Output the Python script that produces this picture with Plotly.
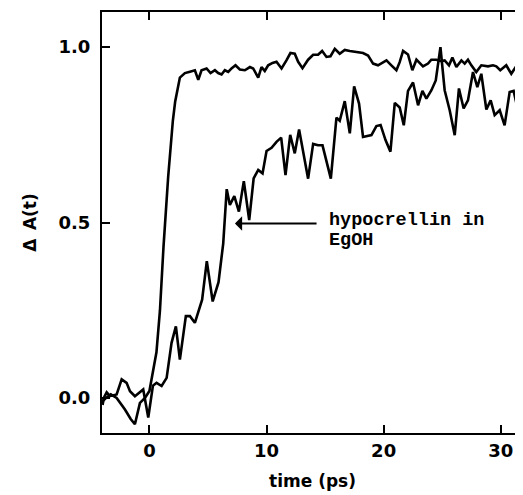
import plotly.graph_objects as go

# Fast-rising trace (time in ps, normalized absorbance change)
time_fast = [-4.0, -3.7, -3.3, -2.8, -2.09, -1.6, -1.24, -0.81, -0.38, 0.0,
             0.6, 0.9, 1.2, 1.6, 2.0, 2.2, 2.6, 3.03, 3.46, 3.88, 4.17, 4.45,
             4.88, 5.22, 5.59, 5.87, 6.16, 6.44, 6.73, 7.01, 7.35, 7.72, 8.15,
             8.58, 8.86, 9.29, 9.57, 9.85, 10.14, 10.51, 10.85, 11.28, 11.70,
             12.04, 12.41, 12.70, 13.07, 13.55, 13.98, 14.40, 14.75, 15.12,
             15.46, 15.83, 16.25, 16.68, 17.11, 17.68, 18.24, 18.67, 19.10,
             19.52, 19.95, 20.24, 20.66, 21.09, 21.37, 21.66, 22.08, 22.45,
             22.80, 23.36, 23.79, 24.07, 24.50, 24.93, 25.21, 25.58, 25.87,
             26.21, 26.64, 26.92, 27.20, 27.49, 27.91, 28.34, 28.91, 29.34,
             29.62, 29.96, 30.47, 30.90, 31.32, 31.89]
signal_fast = [-0.01, 0.0, 0.01, 0.0, -0.033, -0.06, -0.075, -0.014, 0.0, 0.02,
               0.13, 0.25, 0.43, 0.63, 0.79, 0.845, 0.913, 0.926, 0.930, 0.934,
               0.907, 0.934, 0.939, 0.926, 0.934, 0.926, 0.922, 0.934, 0.929,
               0.939, 0.948, 0.936, 0.934, 0.943, 0.939, 0.913, 0.943, 0.932,
               0.948, 0.955, 0.958, 0.939, 0.962, 0.983, 0.981, 0.958, 0.940,
               0.964, 0.978, 0.978, 0.989, 0.972, 0.974, 0.995, 0.981, 0.992,
               0.989, 0.986, 0.983, 0.976, 0.953, 0.948, 0.957, 0.962, 0.948,
               0.934, 0.957, 0.989, 0.979, 0.934, 0.964, 0.945, 0.953, 0.964,
               0.964, 0.960, 0.962, 0.948, 0.970, 0.943, 0.962, 0.953, 0.964,
               0.948, 0.929, 0.948, 0.945, 0.948, 0.945, 0.934, 0.948, 0.924,
               0.945, 0.948]

# Slowly-rising trace (hypocrellin in EgOH)
time_slow = [-4.0, -3.9, -3.65, -3.37, -2.8, -2.37, -1.95, -1.66, -1.24, -0.9,
             -0.53, -0.1, 0.3, 0.61, 1.04, 1.47, 1.89, 2.26, 2.6, 3.11, 3.46,
             3.88, 4.5, 4.9, 5.4, 5.9, 6.3, 6.6, 6.87, 7.25, 7.64, 8.06, 8.52,
             8.9, 9.29, 9.66, 10.0, 10.43, 10.85, 11.25, 11.62, 12.02, 12.41,
             12.78, 13.18, 13.55, 13.98, 14.4, 14.78, 15.17, 15.49, 15.97,
             16.25, 16.68, 17.11, 17.48, 17.9, 18.24, 18.96, 19.38, 19.74,
             20.16, 20.58, 20.95, 21.37, 21.72, 22.08, 22.51, 22.94, 23.31,
             23.65, 24.08, 24.45, 24.85, 25.21, 25.64, 26.07, 26.43, 26.83,
             27.2, 27.63, 28.0, 28.34, 28.77, 29.14, 29.48, 29.91, 30.33,
             30.76, 31.1, 31.47, 31.85]
signal_slow = [-0.02, 0.0, 0.016, 0.005, 0.01, 0.053, 0.043, 0.019, 0.005, 0.015,
               0.024, -0.056, 0.035, 0.043, 0.034, 0.057, 0.157, 0.204, 0.109,
               0.233, 0.233, 0.214, 0.28, 0.39, 0.275, 0.33, 0.44, 0.595, 0.55,
               0.575, 0.531, 0.618, 0.507, 0.626, 0.65, 0.64, 0.704, 0.713,
               0.73, 0.742, 0.635, 0.75, 0.697, 0.765, 0.697, 0.625, 0.724,
               0.72, 0.72, 0.668, 0.625, 0.799, 0.79, 0.846, 0.754, 0.888,
               0.839, 0.744, 0.749, 0.775, 0.778, 0.735, 0.702, 0.841, 0.828,
               0.777, 0.875, 0.899, 0.834, 0.875, 0.853, 0.877, 0.905, 1.0,
               0.877, 0.82, 0.749, 0.882, 0.825, 0.848, 0.929, 0.886, 0.924,
               0.822, 0.848, 0.806, 0.82, 0.777, 0.872, 0.875, 0.82, 0.896]

x_ticks = [0, 10, 20, 30]
x_tick_labels = ["0", "10", "20", "30"]
y_ticks = [0.0, 0.5, 1.0]
y_tick_labels = ["0.0", "0.5", "1.0"]

label_line1 = "hypocrellin in"
label_line2 = "EgOH"

tick_font = dict(family="DejaVu Sans", size=18, color="black", weight="bold")
title_font = dict(family="DejaVu Sans", size=17, color="black", weight="bold")
note_font = dict(family="Liberation Mono", size=18.5, color="black", weight="bold")

fig = go.Figure()
fig.add_trace(go.Scatter(x=time_fast, y=signal_fast, mode="lines",
                         line=dict(color="black", width=2.6), yaxis="y"))
fig.add_trace(go.Scatter(x=time_slow, y=signal_slow, mode="lines",
                         line=dict(color="black", width=2.6), yaxis="y2"))

yrange = [-0.1, 1.1]
fig.update_layout(
    width=515, height=487,
    margin=dict(l=94, r=0, t=4, b=62),
    paper_bgcolor="white", plot_bgcolor="white",
    showlegend=False,
    xaxis=dict(range=[-4.05, 31.9], tickvals=x_ticks, ticktext=x_tick_labels,
               ticks="inside", ticklen=8, tickwidth=2, tickcolor="black",
               showline=True, linewidth=2, linecolor="black", mirror="ticks",
               showgrid=False, zeroline=False, tickfont=tick_font,
               automargin=False,
               title=dict(text="time (ps)", font=title_font, standoff=16)),
    yaxis=dict(range=yrange, tickvals=y_ticks, ticktext=y_tick_labels,
               ticks="inside", ticklen=8, tickwidth=2, tickcolor="black",
               showline=True, linewidth=2, linecolor="black", mirror=False,
               showgrid=False, zeroline=False, tickfont=tick_font,
               ticklabelstandoff=6, automargin=False,
               title=dict(text="Δ\u2002A(t)", font=title_font, standoff=18)),
    yaxis2=dict(range=yrange, tickvals=y_ticks, overlaying="y", side="right",
                ticks="inside", ticklen=8, tickwidth=2, tickcolor="black",
                showticklabels=False, showline=False, showgrid=False,
                zeroline=False, automargin=False),
)

fig.add_annotation(x=7.3, y=0.497, ax=14.4, ay=0.497, xref="x", yref="y",
                   axref="x", ayref="y", text="", showarrow=True,
                   arrowhead=1, arrowsize=1.2, arrowwidth=2, arrowcolor="black")
fig.add_annotation(x=15.2, y=0.505, xref="x", yref="y", text=label_line1,
                   showarrow=False, xanchor="left", yanchor="middle", font=note_font)
fig.add_annotation(x=15.2, y=0.448, xref="x", yref="y", text=label_line2,
                   showarrow=False, xanchor="left", yanchor="middle", font=note_font)

fig.write_html("out.html")
